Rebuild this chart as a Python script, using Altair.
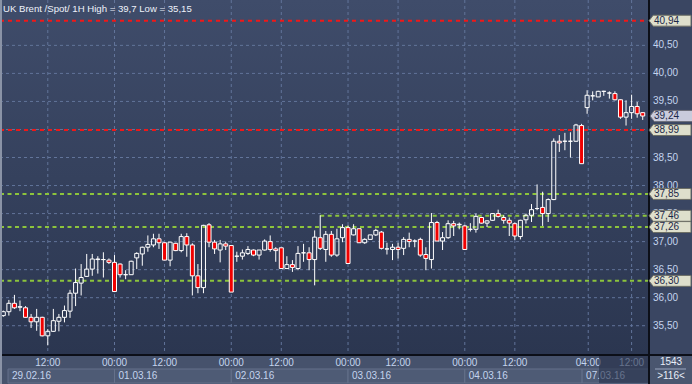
import altair as alt
import pandas as pd

# ---- data: hourly OHLC candles (UK Brent spot, 1H) ----
opens = [35.68, 35.75, 35.90, 35.83, 35.82, 35.65, 35.57, 35.65, 35.32, 35.40,
         35.58, 35.65, 35.76, 36.08, 36.26, 36.38, 36.51, 36.68, 36.68, 36.67,
         36.63, 36.60, 36.41, 36.41, 36.71, 36.78, 36.90, 36.94, 37.05, 36.98,
         36.67, 36.97, 36.84, 37.09, 36.94, 36.39, 36.18, 37.30, 36.99, 36.85,
         36.96, 36.93, 36.74, 36.74, 36.79, 36.85, 36.76, 36.85, 37.00, 36.87,
         36.89, 36.52, 36.59, 36.52, 36.80, 36.80, 36.68, 37.07, 36.86, 37.13,
         36.76, 37.07, 37.25, 37.12, 37.23, 36.98, 37.04, 37.12, 37.17, 36.87,
         36.86, 36.90, 36.88, 37.04, 37.01, 37.04, 36.77, 36.68, 37.34, 37.01,
         37.07, 37.32, 37.30, 37.28, 37.22, 37.22, 37.43, 37.33, 37.38, 37.50,
         37.43, 37.38, 37.32, 37.09, 37.39, 37.47, 37.59, 37.61, 37.50, 37.75,
         38.79, 38.79, 38.79, 38.79, 39.07, 39.39, 39.60, 39.58, 39.68, 39.65,
         39.64, 39.53, 39.22, 39.30, 39.41, 39.30]
highs = [35.77, 35.96, 36.05, 35.95, 35.85, 35.71, 35.80, 35.66, 35.44, 35.80,
         35.71, 35.86, 36.14, 36.52, 36.60, 36.78, 36.78, 36.74, 36.81, 36.70,
         36.76, 36.61, 36.49, 36.66, 36.81, 36.91, 37.11, 37.14, 37.14, 36.99,
         36.99, 36.98, 37.14, 37.15, 36.97, 36.60, 37.30, 37.33, 37.03, 37.03,
         37.00, 36.94, 36.82, 36.86, 36.92, 36.86, 36.85, 37.04, 37.11, 36.90,
         36.89, 36.74, 36.67, 36.92, 36.96, 36.90, 37.20, 37.47, 37.19, 37.19,
         37.23, 37.31, 37.29, 37.31, 37.23, 37.06, 37.12, 37.23, 37.19, 36.98,
         36.96, 36.98, 37.08, 37.16, 37.04, 37.07, 36.90, 37.51, 37.37, 37.17,
         37.38, 37.37, 37.34, 37.30, 37.33, 37.50, 37.44, 37.38, 37.51, 37.57,
         37.47, 37.43, 37.34, 37.39, 37.50, 37.67, 38.02, 37.89, 37.77, 38.84,
         38.90, 38.94, 38.95, 39.10, 39.10, 39.70, 39.68, 39.69, 39.69, 39.68,
         39.68, 39.54, 39.52, 39.62, 39.49, 39.31]
lows = [35.66, 35.68, 35.80, 35.76, 35.64, 35.46, 35.41, 35.31, 35.15, 35.39,
        35.40, 35.56, 35.64, 35.85, 36.04, 36.37, 36.39, 36.43, 36.36, 36.60,
        36.10, 36.36, 36.33, 36.41, 36.51, 36.57, 36.82, 36.90, 36.87, 36.67,
        36.56, 36.83, 36.81, 36.73, 36.04, 36.08, 36.08, 36.90, 36.78, 36.63,
        36.85, 36.10, 36.64, 36.68, 36.76, 36.74, 36.68, 36.84, 36.82, 36.64,
        36.52, 36.52, 36.46, 36.49, 36.64, 36.49, 36.22, 36.85, 36.64, 36.73,
        36.73, 36.99, 36.61, 37.11, 36.98, 36.96, 37.04, 37.10, 36.86, 36.77,
        36.67, 36.70, 36.76, 36.90, 36.90, 36.73, 36.49, 36.52, 37.01, 36.85,
        37.05, 37.10, 37.22, 36.86, 37.18, 37.16, 37.32, 37.26, 37.37, 37.43,
        37.32, 37.10, 37.03, 37.04, 37.32, 37.35, 37.56, 37.28, 37.35, 37.74,
        38.60, 38.63, 38.50, 38.78, 38.39, 39.28, 39.52, 39.58, 39.60, 39.55,
        39.52, 39.19, 39.07, 39.19, 39.21, 39.17]
closes = [35.75, 35.90, 35.82, 35.84, 35.65, 35.57, 35.65, 35.32, 35.40, 35.59,
          35.65, 35.77, 36.08, 36.27, 36.36, 36.51, 36.69, 36.69, 36.68, 36.63,
          36.11, 36.41, 36.41, 36.65, 36.79, 36.90, 36.95, 37.05, 36.98, 36.67,
          36.99, 36.84, 37.09, 36.94, 36.39, 36.18, 37.29, 36.99, 36.87, 36.96,
          36.92, 36.10, 36.74, 36.80, 36.86, 36.76, 36.85, 37.01, 36.86, 36.84,
          36.52, 36.59, 36.54, 36.79, 36.80, 36.68, 37.08, 36.88, 37.13, 36.76,
          37.05, 37.25, 36.61, 37.23, 36.98, 37.04, 37.12, 37.20, 36.88, 36.87,
          36.90, 36.86, 37.04, 37.00, 37.01, 36.76, 36.70, 37.34, 37.01, 37.07,
          37.32, 37.28, 37.31, 36.86, 37.22, 37.45, 37.33, 37.37, 37.50, 37.45,
          37.38, 37.33, 37.10, 37.38, 37.47, 37.57, 37.59, 37.50, 37.75, 38.79,
          38.76, 38.79, 38.79, 39.08, 38.39, 39.61, 39.60, 39.68, 39.68, 39.65,
          39.53, 39.22, 39.30, 39.41, 39.28, 39.24]

grid_prices = [35.5, 36.0, 36.5, 37.0, 37.5, 38.0, 38.5, 39.0, 39.5, 40.0, 40.5]
time_idx = [8, 20, 29, 41, 50, 62, 71, 83, 92, 105.2, 113]
time_labels = ["12:00", "00:00", "12:00", "00:00", "12:00", "00:00",
               "12:00", "00:00", "12:00", "04:00", "12:00"]
date_labels = ["29.02.16", "01.03.16", "02.03.16", "03.03.16", "04.03.16", "07.03.16"]
date_start = [0.85, 20, 41, 62, 83, 104.1]
date_end = [20, 41, 62, 83, 104.1, 116.13]
red_levels = [40.94, 38.99]
green_levels = [37.85, 37.46, 37.26, 36.30]
green_start = [-0.594, 57, -0.594, -0.594]
tag_prices = [40.94, 38.99, 37.85, 37.46, 37.26, 36.30]
last_price = [39.24]

# ---- layout constants ----
W, H = 649, 355
XDOM = [-0.594, 116.13]
YDOM = [34.978, 41.309]
FONT = "Liberation Sans"
LABEL_C = "#c4d4ee"
FS = 10

xs = alt.Scale(domain=XDOM, nice=False, zero=False)
ys = alt.Scale(domain=YDOM, nice=False, zero=False)


def comma(v):
    return f"{v:.2f}".replace(".", ",")


n = len(opens)
df = pd.DataFrame({"i": list(range(n)), "o": opens, "h": highs, "l": lows, "c": closes})
df["top"] = df[["o", "c"]].max(axis=1)
df["bot"] = df[["o", "c"]].min(axis=1)
df["up"] = df["c"] >= df["o"]
df["x1"] = df["i"] - 0.36
df["x2"] = df["i"] + 0.36

one = pd.DataFrame({"a": [0]})

bg = alt.Chart(one).mark_rect(
    color=alt.LinearGradient(
        gradient="linear",
        stops=[alt.GradientStop(color="#3f4c6a", offset=0),
               alt.GradientStop(color="#2b3650", offset=1)],
        x1=0, x2=0, y1=0, y2=1)
).encode(x=alt.value(0), x2=alt.value(W), y=alt.value(0), y2=alt.value(H))

grid_df = pd.DataFrame({"p": grid_prices, "lab": [comma(v) for v in grid_prices]})
hgrid = alt.Chart(grid_df).mark_rule(
    color="#62749a", strokeDash=[3, 3], strokeWidth=1
).encode(y=alt.Y("p:Q", scale=ys, axis=None), x=alt.value(0), x2=alt.value(W))
ylabels = alt.Chart(grid_df).mark_text(
    align="left", baseline="middle", font=FONT, fontSize=FS, color=LABEL_C
).encode(y=alt.Y("p:Q", scale=ys), x=alt.value(653), text="lab:N")

vgrid = alt.Chart(pd.DataFrame({"t": time_idx})).mark_rule(
    color="#62749a", strokeDash=[3, 3], strokeWidth=1
).encode(x=alt.X("t:Q", scale=xs, axis=None), y=alt.value(0), y2=alt.value(H))

red_lines = alt.Chart(pd.DataFrame({"p": red_levels})).mark_rule(
    color="#f01818", strokeDash=[4, 4], strokeWidth=2
).encode(y=alt.Y("p:Q", scale=ys), x=alt.value(0), x2=alt.value(W))

green_lines = alt.Chart(pd.DataFrame({"p": green_levels, "s": green_start})).mark_rule(
    color="#8cc43c", strokeDash=[4, 3.5], strokeWidth=2
).encode(y=alt.Y("p:Q", scale=ys), x=alt.X("s:Q", scale=xs), x2=alt.value(W))

base = alt.Chart(df)
wick_hi = base.mark_rule(color="white", strokeWidth=1).encode(
    x=alt.X("i:Q", scale=xs), y=alt.Y("h:Q", scale=ys), y2="top:Q")
wick_lo = base.mark_rule(color="white", strokeWidth=1).encode(
    x=alt.X("i:Q", scale=xs), y=alt.Y("bot:Q", scale=ys), y2="l:Q")
bodies = base.mark_rect(stroke="white", strokeWidth=1).encode(
    x=alt.X("x1:Q", scale=xs), x2="x2:Q",
    y=alt.Y("top:Q", scale=ys), y2="bot:Q",
    fill=alt.condition("datum.up", alt.value("transparent"), alt.value("#f00000")))

title = alt.Chart(one).mark_text(
    text="UK Brent /Spot/  1H High = 39,7 Low = 35,15", align="left", baseline="middle",
    font=FONT, fontSize=9.6, color="#eef2fa"
).encode(x=alt.value(3), y=alt.value(8.5))

TAG = "M -1 0 L -0.8 -0.26 L 1 -0.26 L 1 0.26 L -0.8 0.26 Z"
tag_df = pd.DataFrame({"p": tag_prices, "lab": [comma(v) for v in tag_prices]})
tags = alt.Chart(tag_df).mark_point(
    shape=TAG, size=1764, filled=True, fill="#dedfcc", stroke="#6d6f66", strokeWidth=1, opacity=1
).encode(y=alt.Y("p:Q", scale=ys), x=alt.value(670))
tag_txt = alt.Chart(tag_df).mark_text(
    align="left", baseline="middle", font=FONT, fontSize=FS, color="#1c2848"
).encode(y=alt.Y("p:Q", scale=ys), x=alt.value(654), text="lab:N")

last_df = pd.DataFrame({"p": last_price, "lab": [comma(v) for v in last_price]})
last_tag = alt.Chart(last_df).mark_point(
    shape=TAG, size=1849, filled=True, fill="#c9cbdc", stroke="#6d6f7a", strokeWidth=1, opacity=1
).encode(y=alt.Y("p:Q", scale=ys), x=alt.value(671.5))
last_txt = alt.Chart(last_df).mark_text(
    align="left", baseline="middle", font=FONT, fontSize=FS, color="#1c2848"
).encode(y=alt.Y("p:Q", scale=ys), x=alt.value(654), text="lab:N")

# bottom time strip
strip = alt.Chart(one).mark_rect(color="#46526c").encode(
    x=alt.value(0), x2=alt.value(692), y=alt.value(H), y2=alt.value(384))
date_df = pd.DataFrame({"s": date_start, "e": date_end, "lab": date_labels})
date_boxes = alt.Chart(date_df).mark_rect(fill="#4e5b75", stroke="#65718b", strokeWidth=1).encode(
    x=alt.X("s:Q", scale=xs), x2="e:Q", y=alt.value(369), y2=alt.value(383))
date_txt = alt.Chart(date_df).mark_text(
    align="left", baseline="middle", font=FONT, fontSize=FS, color=LABEL_C, dx=4
).encode(x=alt.X("s:Q", scale=xs), y=alt.value(376), text="lab:N")
time_df = pd.DataFrame({"t": time_idx, "lab": time_labels})
time_txt = alt.Chart(time_df).mark_text(
    align="center", baseline="middle", font=FONT, fontSize=FS, color=LABEL_C
).encode(x=alt.X("t:Q", scale=xs), y=alt.value(363), text="lab:N")
shade = alt.Chart(one).mark_rect(color="#27314a", opacity=0.6).encode(
    x=alt.value(599), x2=alt.value(W), y=alt.value(H + 1), y2=alt.value(383))

corner = alt.Chart(one).mark_rect(color="#4a566f").encode(
    x=alt.value(W + 1), x2=alt.value(692), y=alt.value(H + 1), y2=alt.value(384))
corner_sep = alt.Chart(one).mark_rule(color="#9aa6c0", strokeWidth=1).encode(
    x=alt.value(655), x2=alt.value(686), y=alt.value(369))
corner_t1 = alt.Chart(one).mark_text(
    text="1543", align="center", baseline="middle", font=FONT, fontSize=FS, color="#e8eef8"
).encode(x=alt.value(671), y=alt.value(362))
corner_t2 = alt.Chart(one).mark_text(
    text=">116<", align="center", baseline="middle", font=FONT, fontSize=FS, color="#e8eef8"
).encode(x=alt.value(671), y=alt.value(376))

frame_v = alt.Chart(one).mark_rule(color="#0c0f18", strokeWidth=2).encode(
    x=alt.value(W), y=alt.value(0), y2=alt.value(384))
frame_h = alt.Chart(one).mark_rule(color="#0c0f18", strokeWidth=2).encode(
    x=alt.value(0), x2=alt.value(692), y=alt.value(H))
left_border = alt.Chart(one).mark_rule(color="#8a93a6", strokeWidth=2).encode(
    x=alt.value(1), y=alt.value(0), y2=alt.value(384))

chart = alt.layer(
    bg, hgrid, vgrid, red_lines, green_lines, wick_hi, wick_lo, bodies, ylabels,
    title, strip, date_boxes, date_txt, time_txt, shade, corner, corner_sep,
    corner_t1, corner_t2, frame_v, frame_h, left_border,
    tags, tag_txt, last_tag, last_txt
).properties(
    width=W, height=H,
    padding={"left": 0, "top": 0, "right": 692 - W, "bottom": 384 - H},
    autosize=alt.AutoSizeParams(type="none"),
    background="#3a4662"
).configure_view(stroke=None)

chart.save("out.html", embed_options={"renderer": "svg", "actions": False})
